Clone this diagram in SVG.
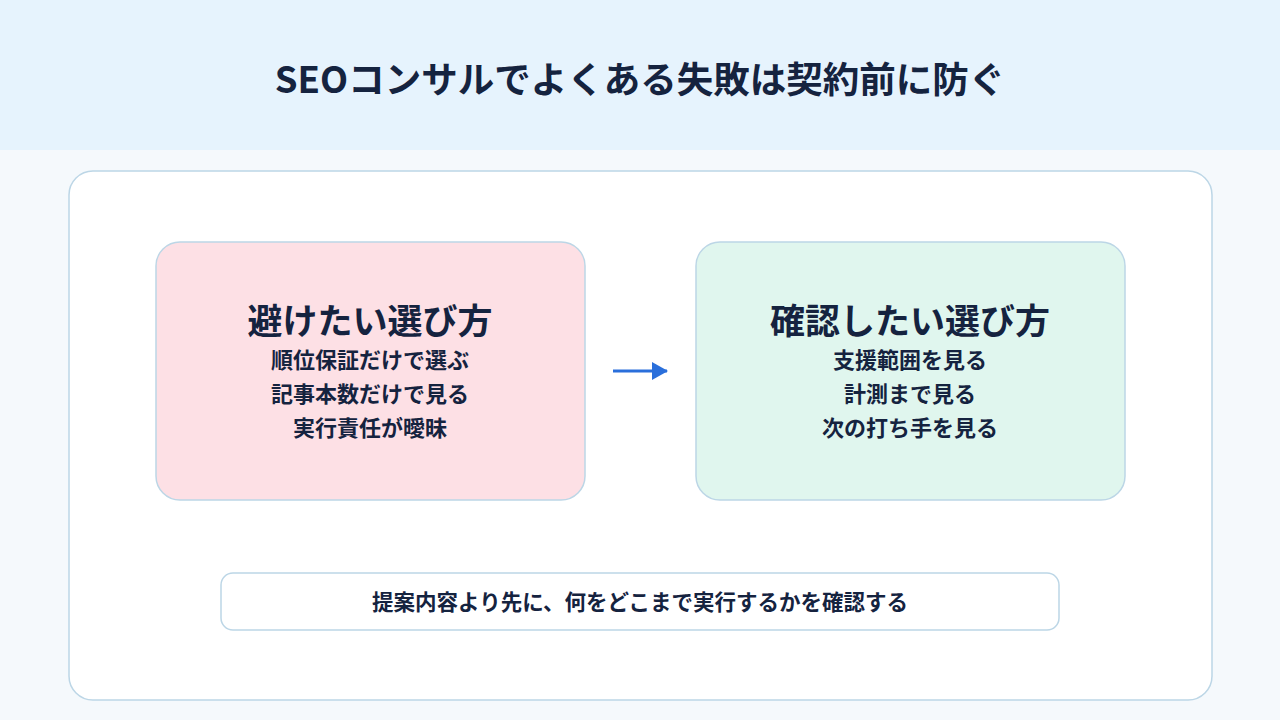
<svg xmlns="http://www.w3.org/2000/svg" width="1280" height="720" viewBox="0 0 1280 720">
<style>
text{font-family:"Noto Sans CJK JP","Noto Sans",sans-serif;fill:#15233f;font-weight:700;text-anchor:middle}
.box{stroke:#bcd6e6;stroke-width:1.5}
.h{font-size:35px}.l{font-size:22px}
</style>
<defs><marker id="ah" markerWidth="16" markerHeight="18" refX="15" refY="9" orient="auto" markerUnits="userSpaceOnUse"><path d="M0,0 L16,9 L0,18Z" fill="#2a6fdb"/></marker></defs>
<rect width="1280" height="720" fill="#f5f9fc"/>
<rect width="1280" height="150" fill="#e6f3fd"/>
<text x="640" y="93" style="font-size:36.5px">SEOコンサルでよくある失敗は契約前に防ぐ</text>
<rect x="69" y="171" width="1143" height="529" rx="24" fill="#fff" class="box"/>
<g id="avoid"><rect x="156" y="242" width="429" height="258" rx="24" fill="#fde0e5" class="box"/>
<text x="370" y="334" class="h">避けたい選び方</text>
<text x="370" y="368" class="l">順位保証だけで選ぶ</text>
<text x="370" y="402" class="l">記事本数だけで見る</text>
<text x="370" y="436" class="l">実行責任が曖昧</text></g>
<g id="check"><rect x="696" y="242" width="429" height="258" rx="24" fill="#e0f6ee" class="box"/>
<text x="910" y="334" class="h">確認したい選び方</text>
<text x="910" y="368" class="l">支援範囲を見る</text>
<text x="910" y="402" class="l">計測まで見る</text>
<text x="910" y="436" class="l">次の打ち手を見る</text></g>
<g id="connectors"><line x1="613" y1="371" x2="667" y2="371" stroke="#2a6fdb" stroke-width="3" marker-end="url(#ah)"/></g>
<g id="note"><rect x="221" y="573" width="838" height="57" rx="12" fill="#fff" class="box"/>
<text x="640" y="610" style="font-size:21.5px">提案内容より先に、何をどこまで実行するかを確認する</text></g>
</svg>
